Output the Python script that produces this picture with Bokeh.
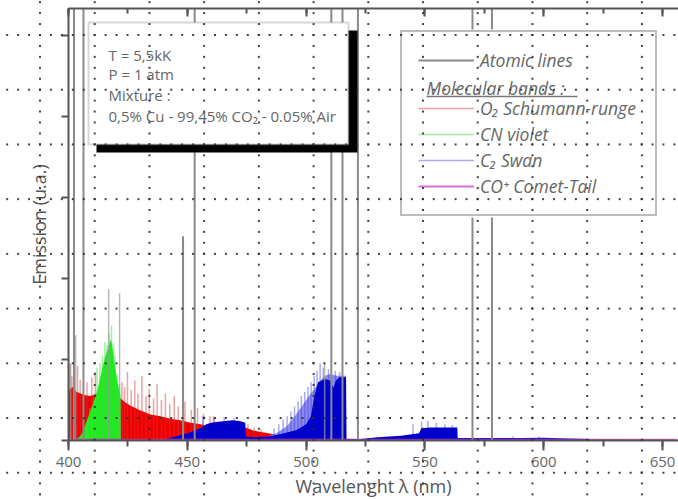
from bokeh.plotting import figure
from bokeh.models import (Range1d, LinearAxis, SingleIntervalTicker, Legend, LegendItem,
                          BoxAnnotation, Label, Arrow, InlineStyleSheet)
from bokeh.embed import file_html
from bokeh.resources import INLINE

# ---------------- data ----------------
# Atomic (Cu) lines: wavelength (nm) and intensity (a.u.); saturated ones go off scale
atomic_wl = [402.3, 406.3, 448.2, 453.1, 510.6, 515.3, 521.8, 570.0, 578.2]
atomic_int = [9.0, 9.0, 2.52, 9.0, 9.0, 9.0, 9.0, 9.0, 9.0]
weak_wl = [400.9, 403.0, 416.9, 421.5, 507.8]
weak_int = [0.95, 1.30, 1.87, 1.82, 0.95]

# O2 Schumann-Runge band envelope
o2_wl = [400.0, 401.7, 403.4, 405.1, 407.2, 409.3, 411.4, 413.5, 417.7, 421.9, 424.0,
         426.1, 430.3, 434.5, 438.7, 442.9, 447.1, 451.3, 455.6, 459.8, 462.0, 466.0,
         470.0, 474.5, 478.0, 484.0, 490.0, 500.0, 520.0, 560.0, 600.0, 656.0]
o2_int = [0.62, 0.66, 0.60, 0.58, 0.56, 0.55, 0.57, 0.58, 0.55, 0.52, 0.47,
          0.43, 0.37, 0.32, 0.30, 0.27, 0.25, 0.22, 0.20, 0.17, 0.14, 0.12,
          0.14, 0.16, 0.12, 0.09, 0.06, 0.03, 0.02, 0.015, 0.012, 0.01]
o2_spk_wl = [400.6, 401.4, 403.8, 404.9, 407.8, 409.8, 411.3, 422.5, 423.6, 424.8, 426.4,
             427.9, 429.2, 430.9, 432.6, 434.0, 435.8, 437.3, 439.1, 440.8, 442.6, 444.5,
             446.2, 449.0, 451.7, 454.3, 456.8, 459.6, 461.4, 475.5, 478.2, 481.0]
o2_spk_int = [0.95, 0.80, 0.92, 0.75, 0.72, 0.78, 0.85, 0.72, 0.66, 0.85, 0.62,
              0.74, 0.58, 0.80, 0.55, 0.64, 0.52, 0.70, 0.50, 0.58, 0.45, 0.55,
              0.42, 0.48, 0.38, 0.40, 0.33, 0.30, 0.28, 0.20, 0.16, 0.14]

# CN violet band envelope
cn_wl = [402.9, 405.1, 406.3, 408.4, 410.5, 412.2, 413.5, 414.7, 415.6, 416.4, 417.3,
         417.9, 418.5, 419.4, 420.6, 421.5, 421.9, 422.0]
cn_int = [0.0, 0.06, 0.13, 0.30, 0.47, 0.62, 0.80, 0.95, 1.05, 1.12, 1.20,
          1.25, 1.15, 0.95, 0.72, 0.60, 0.55, 0.0]
cn_spk_wl = [408.9, 410.6, 412.0, 413.2, 414.3, 415.3, 416.2, 417.1, 418.1, 418.9, 419.6, 420.5, 421.4]
cn_spk_int = [0.40, 0.58, 0.90, 0.95, 1.05, 1.21, 1.18, 1.32, 1.42, 1.20, 1.05, 0.82, 0.70]

# C2 Swan band envelope (dense part) and pale head of the (0,0) sequence
c2_wl = [438.7, 444.0, 450.0, 455.6, 458.0, 460.0, 463.0, 466.0, 469.0, 472.0, 474.4,
         474.6, 478.0, 484.0, 488.0, 492.0, 496.0, 500.0, 502.0, 503.5, 505.0, 508.0,
         510.0, 511.5, 512.5, 514.0, 516.8, 517.0, 523.0, 530.0, 540.0, 547.5, 548.5,
         552.0, 556.0, 560.0, 563.6, 563.8, 575.0, 590.0, 600.0, 610.0, 619.0, 619.5]
c2_int = [0.0, 0.04, 0.09, 0.15, 0.20, 0.22, 0.23, 0.24, 0.25, 0.24, 0.22,
          0.05, 0.04, 0.05, 0.07, 0.10, 0.13, 0.20, 0.30, 0.55, 0.72, 0.76,
          0.74, 0.65, 0.74, 0.78, 0.78, 0.02, 0.02, 0.04, 0.06, 0.09, 0.15,
          0.16, 0.16, 0.16, 0.16, 0.03, 0.03, 0.03, 0.035, 0.025, 0.02, 0.0]
c2_pale_wl = [484.0, 488.0, 492.0, 496.0, 500.0, 503.0, 506.0, 508.0, 510.0, 513.0, 516.8]
c2_pale_int = [0.05, 0.10, 0.18, 0.33, 0.50, 0.62, 0.74, 0.80, 0.82, 0.80, 0.80]
c2_spk_wl = [456.5, 461.0, 465.5, 469.7, 486.5, 488.5, 490.3, 492.0, 493.6, 495.1, 496.6,
             498.0, 499.4, 500.8, 502.1, 503.4, 504.6, 505.9, 507.2, 509.4, 512.3, 514.1,
             545.0, 548.6, 551.2, 554.8, 558.4, 561.5, 587.0, 598.0]
c2_spk_int = [0.30, 0.30, 0.29, 0.28, 0.15, 0.20, 0.26, 0.30, 0.36, 0.42, 0.48,
              0.55, 0.60, 0.66, 0.72, 0.80, 0.86, 0.95, 0.90, 0.88, 0.86, 0.85,
              0.20, 0.23, 0.24, 0.22, 0.20, 0.19, 0.05, 0.05]

# CO+ Comet-Tail band (faint baseline)
co_wl = [400.0, 425.0, 450.0, 475.0, 500.0, 525.0, 550.0, 575.0, 600.0, 625.0, 656.0]
co_int = [0.012, 0.010, 0.012, 0.010, 0.012, 0.010, 0.010, 0.012, 0.012, 0.010, 0.010]

info_lines = ["T = 5,5kK", "P = 1 atm", "Mixture :", "0,5% Cu - 99,45% CO\u2082 - 0.05% Air"]

# ---------------- styling ----------------
FONT = "Open Sans"
AXIS_C = "#555555"
TEXT_C = "#666666"

dots_css = InlineStyleSheet(css="""
:host { position: relative; }
:host::after {
  content: "";
  position: absolute; left: 0; top: 0; right: 0; bottom: 0;
  pointer-events: none; z-index: 100;
  background-image:
    radial-gradient(circle at 1px 1px, rgba(45,45,45,0.9) 0.9px, rgba(45,45,45,0) 1.5px),
    radial-gradient(circle at 1px 1px, rgba(45,45,45,0.9) 0.9px, rgba(45,45,45,0) 1.5px);
  background-size: 10.946px 54.73px, 54.73px 10.946px;
  background-position: 39px 34px, 39px 34px;
}
""")

p = figure(width=678, height=500, output_backend="svg", toolbar_location=None,
           x_range=Range1d(400, 656.7), y_range=Range1d(0, 5.333),
           x_axis_location=None, y_axis_location=None,
           min_border_left=68, min_border_right=0, min_border_top=8, min_border_bottom=60,
           background_fill_color="white", border_fill_color="white",
           outline_line_color=None, stylesheets=[dots_css])
p.grid.visible = False

def style_axis(ax):
    ax.axis_line_color = AXIS_C
    ax.axis_line_width = 2
    ax.major_tick_line_color = AXIS_C
    ax.major_tick_line_width = 2
    ax.minor_tick_line_color = AXIS_C
    ax.minor_tick_line_width = 2
    ax.major_label_text_font = FONT
    ax.major_label_text_color = TEXT_C
    ax.axis_label_text_font = FONT
    ax.axis_label_text_font_style = "normal"
    ax.axis_label_text_color = AXIS_C

xb = LinearAxis(ticker=SingleIntervalTicker(interval=50, num_minor_ticks=2),
                axis_label="Wavelenght \u03bb (nm)")
style_axis(xb)
xb.major_tick_out = 10
xb.major_tick_in = 0
xb.minor_tick_out = 6
xb.minor_tick_in = 0
xb.major_label_text_font_size = "15px"
xb.major_label_standoff = 6
xb.axis_label_text_font_size = "18px"
xb.axis_label_standoff = 4
p.add_layout(xb, "below")

xt = LinearAxis(ticker=SingleIntervalTicker(interval=50, num_minor_ticks=2))
style_axis(xt)
xt.major_tick_out = 0
xt.major_tick_in = 8
xt.minor_tick_out = 0
xt.minor_tick_in = 5
xt.major_label_text_font_size = "1px"
xt.major_label_text_color = None
xt.major_label_standoff = 0
p.add_layout(xt, "above")

yl = LinearAxis(ticker=SingleIntervalTicker(interval=1, num_minor_ticks=0),
                axis_label="Emission (u.a.)")
style_axis(yl)
yl.major_tick_out = 7
yl.major_tick_in = 0
yl.minor_tick_out = 0
yl.minor_tick_in = 0
yl.major_label_text_font_size = "1px"
yl.major_label_text_color = None
yl.major_label_standoff = 0
yl.axis_label_text_font_size = "18px"
yl.axis_label_standoff = 11
p.add_layout(yl, "left")

# ---------------- spectra ----------------
o2_area = p.varea(x=o2_wl, y1=[0] * len(o2_wl), y2=o2_int, fill_color="#f00000")
o2_spk = p.segment(x0=o2_spk_wl, y0=[0] * len(o2_spk_wl), x1=o2_spk_wl, y1=o2_spk_int,
                   line_color="#d83030", line_alpha=0.45, line_width=1.5)
cn_area = p.varea(x=cn_wl, y1=[0] * len(cn_wl), y2=cn_int, fill_color="#22ee22")
cn_spk = p.segment(x0=cn_spk_wl, y0=[0] * len(cn_spk_wl), x1=cn_spk_wl, y1=cn_spk_int,
                   line_color="#30d830", line_alpha=0.45, line_width=1.5)
c2_pale = p.varea(x=c2_pale_wl, y1=[0] * len(c2_pale_wl), y2=c2_pale_int,
                  fill_color="#8c8cf0")
c2_spk = p.segment(x0=c2_spk_wl, y0=[0] * len(c2_spk_wl), x1=c2_spk_wl, y1=c2_spk_int,
                   line_color="#4040e0", line_alpha=0.45, line_width=1.5)
c2_area = p.varea(x=c2_wl, y1=[0] * len(c2_wl), y2=c2_int, fill_color="#0000cc")
co_line = p.line(x=co_wl, y=co_int, line_color="#cc33cc", line_width=2, line_alpha=0.7)
weak_r = p.segment(x0=weak_wl, y0=[0] * len(weak_wl), x1=weak_wl, y1=weak_int,
                   line_color="#9a9a9a", line_alpha=0.7, line_width=1.5)
atomic_r = p.segment(x0=atomic_wl, y0=[0] * len(atomic_wl), x1=atomic_wl, y1=atomic_int,
                     line_color="#8a8a8a", line_width=2)
blank_r = p.line(x=[], y=[], line_alpha=0)

# ---------------- legend ----------------
# white panel behind the (transparent) legend box
p.add_layout(BoxAnnotation(left=331, right=590, top=411, bottom=223,
                           left_units="screen", right_units="screen",
                           top_units="screen", bottom_units="screen",
                           fill_color="white", fill_alpha=1.0, line_color=None))
p.add_layout(Label(x=358, y=353, x_units="screen", y_units="screen",
                   text="Molecular bands :", text_font=FONT, text_font_style="italic",
                   text_font_size="17.5px", text_color=TEXT_C, text_baseline="middle"))
p.add_layout(Arrow(end=None, x_start=358, y_start=344, x_end=509, y_end=344,
                   start_units="screen", end_units="screen",
                   line_color="#777777", line_width=1.3))

legend = Legend(items=[
    LegendItem(label="Atomic lines", renderers=[atomic_r]),
    LegendItem(label=" ", renderers=[blank_r]),
    LegendItem(label="O\u2082 Schumann-runge", renderers=[o2_spk]),
    LegendItem(label="CN violet", renderers=[cn_spk]),
    LegendItem(label="C\u2082 Swan", renderers=[c2_spk]),
    LegendItem(label="CO\u207a Comet-Tail", renderers=[co_line]),
], location=(332, 224), orientation="vertical",
    label_text_font=FONT, label_text_font_style="italic", label_text_font_size="17.5px",
    label_text_color=TEXT_C, glyph_width=56, glyph_height=20, label_height=20,
    label_width=159, label_standoff=6, spacing=2, padding=16, margin=0,
    border_line_color="#7a7a7a", border_line_width=2,
    background_fill_alpha=0.0)
p.add_layout(legend, "center")

# ---------------- info box ----------------
p.add_layout(BoxAnnotation(left=28, right=289, top=410, bottom=288,
                           left_units="screen", right_units="screen",
                           top_units="screen", bottom_units="screen",
                           fill_color="black", fill_alpha=1.0, line_color=None))
p.add_layout(BoxAnnotation(left=20, right=280, top=418, bottom=296,
                           left_units="screen", right_units="screen",
                           top_units="screen", bottom_units="screen",
                           fill_color="white", fill_alpha=1.0,
                           line_color="#7a7a7a", line_width=2))
for txt, ys in zip(info_lines, [386, 367, 346, 325]):
    p.add_layout(Label(x=40, y=ys, x_units="screen", y_units="screen", text=txt,
                       text_font=FONT, text_font_size="15px", text_color=TEXT_C,
                       text_baseline="middle"))

open("out.html", "w").write(file_html(p, INLINE))
